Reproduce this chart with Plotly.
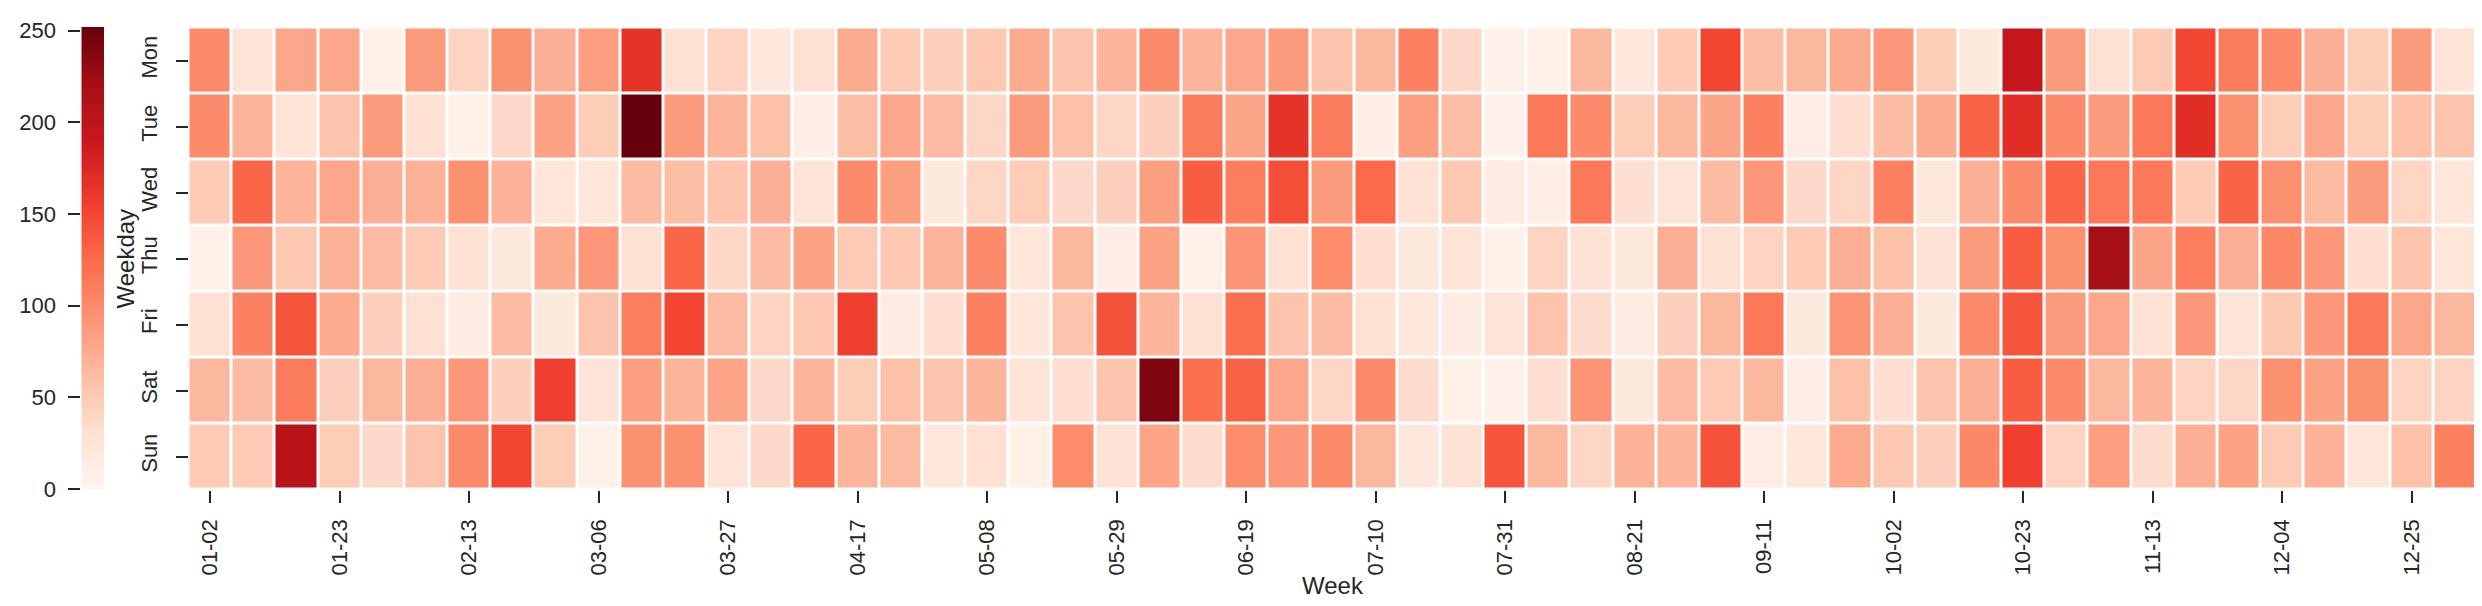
import numpy as np
import pandas as pd
import plotly.graph_objects as go

# weekly counts per weekday (rows) for 53 weeks starting 2022-01-02
weekdays = ["Mon", "Tue", "Wed", "Thu", "Fri", "Sat", "Sun"]
weeks = pd.date_range("2022-01-02", periods=53, freq="7D").strftime("%m-%d").tolist()

mon = [100, 25, 78, 78, 8, 88, 42, 95, 72, 86, 165, 30, 42, 20, 30, 75, 50, 45, 52, 75, 55,
       68, 100, 68, 78, 88, 55, 65, 108, 38, 6, 8, 65, 20, 50, 150, 60, 65, 75, 90, 48, 18,
       195, 88, 30, 50, 150, 112, 100, 72, 48, 88, 25]
tue = [100, 68, 25, 55, 88, 30, 8, 38, 82, 48, 252, 88, 68, 58, 10, 60, 78, 62, 40, 88, 58,
       40, 45, 112, 80, 165, 112, 10, 85, 60, 6, 115, 100, 48, 65, 80, 108, 12, 32, 62, 75, 130,
       170, 100, 88, 115, 170, 95, 48, 78, 48, 58, 55]
wed = [50, 128, 68, 78, 72, 70, 95, 70, 22, 22, 62, 60, 55, 72, 25, 100, 85, 18, 40, 48, 38,
       45, 85, 135, 110, 145, 88, 125, 28, 52, 15, 10, 115, 32, 25, 62, 90, 38, 40, 108, 20, 72,
       100, 128, 115, 115, 50, 130, 95, 62, 88, 40, 22]
thu = [8, 90, 52, 70, 62, 50, 30, 18, 75, 90, 30, 128, 40, 62, 82, 50, 52, 68, 100, 22, 65,
       12, 82, 8, 92, 30, 98, 32, 18, 25, 8, 42, 28, 18, 72, 30, 42, 50, 72, 58, 28, 88,
       135, 95, 220, 80, 110, 72, 102, 90, 32, 55, 22]
fri = [30, 108, 140, 75, 45, 30, 15, 62, 18, 55, 110, 150, 62, 42, 52, 155, 15, 32, 108, 22, 55,
       142, 68, 30, 122, 55, 62, 30, 20, 15, 25, 55, 35, 15, 45, 65, 115, 18, 92, 72, 18, 100,
       140, 88, 78, 28, 90, 25, 52, 90, 115, 78, 65]
sat = [65, 62, 112, 45, 65, 72, 90, 45, 155, 25, 85, 68, 80, 38, 68, 48, 58, 55, 68, 25, 32,
       55, 240, 122, 132, 78, 40, 100, 35, 8, 6, 32, 92, 18, 62, 50, 65, 10, 58, 32, 55, 72,
       135, 100, 65, 68, 42, 40, 95, 82, 95, 42, 42]
sun = [50, 50, 205, 48, 38, 55, 100, 150, 48, 8, 95, 95, 25, 38, 128, 68, 62, 20, 30, 8, 98,
       28, 80, 35, 98, 90, 100, 65, 20, 28, 140, 65, 40, 70, 68, 142, 12, 20, 75, 52, 45, 102,
       155, 42, 85, 35, 72, 82, 50, 70, 22, 58, 108]

z = [mon, tue, wed, thu, fri, sat, sun]
cbar_ticks = [0, 50, 100, 150, 200, 250]

# matplotlib "Reds"
reds = ["#fff5f0", "#fee0d2", "#fcbba1", "#fc9272", "#fb6a4a",
        "#ef3b2c", "#cb181d", "#a50f15", "#67000d"]
colorscale = [[i / 8, c] for i, c in enumerate(reds)]

W, H = 2482, 606
zmax = max(max(r) for r in z)
txt = "#262626"
font = "Liberation Sans, Arial, sans-serif"

fig = go.Figure()

fig.add_trace(go.Heatmap(
    z=z, x=weeks, y=weekdays,
    colorscale=colorscale, zmin=0, zmax=zmax,
    xgap=3, ygap=3, showscale=False,
    xaxis="x", yaxis="y",
))

# colorbar drawn as its own little heatmap so labels sit on the left
cb_vals = np.linspace(0, zmax, 300)
fig.add_trace(go.Heatmap(
    z=cb_vals.reshape(-1, 1), x=[0], y=cb_vals,
    colorscale=colorscale, zmin=0, zmax=zmax,
    showscale=False, hoverinfo="skip",
    xaxis="x2", yaxis="y2",
))

tickfont = dict(family=font, size=22, color=txt)

fig.update_layout(
    width=W, height=H,
    template="none",
    paper_bgcolor="white", plot_bgcolor="white",
    margin=dict(l=0, r=0, t=0, b=0),
    showlegend=False,
    xaxis=dict(
        domain=[180.5 / W, 2468.5 / W],
        type="category",
        tickmode="array", tickvals=weeks[::3], ticktext=weeks[::3],
        tickangle=-90, ticks="outside", ticklen=12, tickwidth=2, tickcolor=txt,
        ticklabelstandoff=8,
        tickfont=tickfont, showgrid=False, zeroline=False, showline=False,
        anchor="y", automargin=False,
    ),
    yaxis=dict(
        domain=[1 - 481.5 / H, 1 - 19.5 / H],
        type="category", autorange="reversed",
        tickangle=-90, ticks="outside", ticklen=12, tickwidth=2, tickcolor=txt,
        ticklabelstandoff=10,
        tickfont=tickfont, showgrid=False, zeroline=False, showline=False,
        anchor="x", automargin=False,
    ),
    xaxis2=dict(
        domain=[73.3 / W, 96 / W],
        visible=False, anchor="y2", fixedrange=True,
    ),
    yaxis2=dict(
        domain=[1 - 481 / H, 1 - 19 / H],
        range=[0, zmax], anchor="x2", side="left",
        tickmode="array", tickvals=cbar_ticks,
        ticks="outside", ticklen=12, tickwidth=2, tickcolor=txt,
        ticklabelstandoff=8,
        tickfont=tickfont, showgrid=False, zeroline=False, showline=False,
        automargin=False,
    ),
    annotations=[
        dict(text="Weekday", x=117 / W, y=1 - 250.5 / H, xref="paper", yref="paper",
             textangle=-90, showarrow=False, xanchor="center", yanchor="middle",
             font=dict(family=font, size=24, color=txt)),
        dict(text="Week", x=1324.5 / W, y=1 - 577 / H, xref="paper", yref="paper",
             showarrow=False, xanchor="center", yanchor="middle",
             font=dict(family=font, size=24, color=txt)),
    ],
)

fig.write_html("out.html")
